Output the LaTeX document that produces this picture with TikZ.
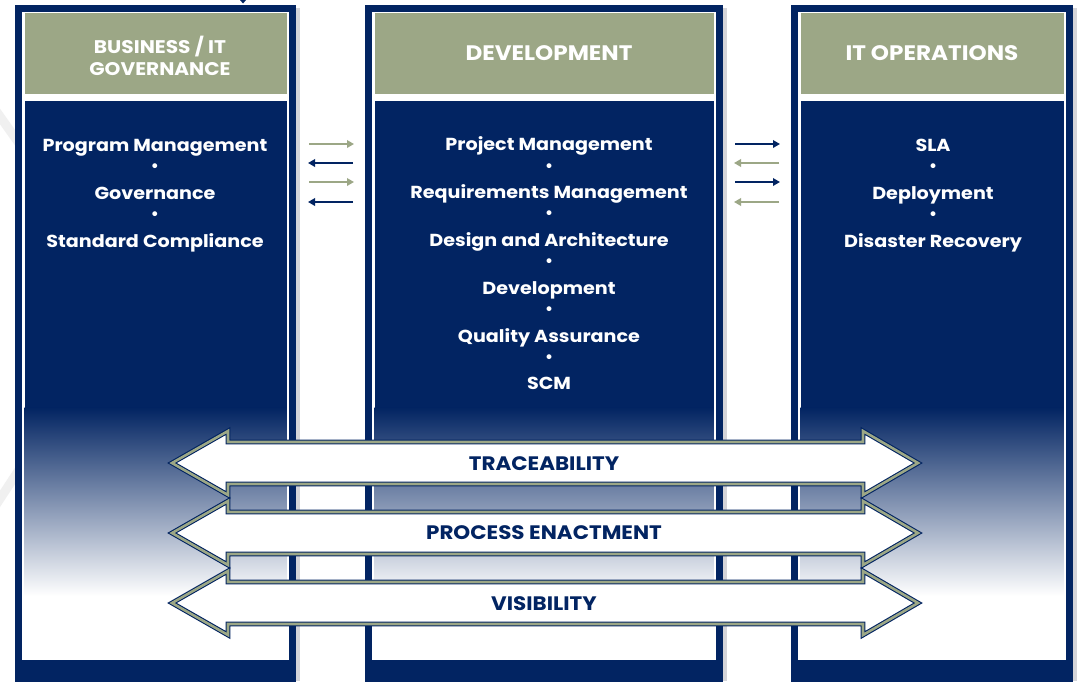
\documentclass[tikz,border=0pt]{standalone}
\usepackage{fontspec}
\setmainfont{Poppins}
\newfontfamily\wfont[FakeStretch=1.1]{Poppins}
\usetikzlibrary{arrows.meta}
\definecolor{navy}{HTML}{022462}
\definecolor{olive}{HTML}{9CA786}
\definecolor{shadowgray}{HTML}{D4D4D8}
\tikzset{
  frame/.style={fill=navy, draw=none},
  inner/.style={fill=white, draw=none},
  header/.style={fill=olive, draw=none},
  htext/.style={text=white, font=\wfont\fontsize{21}{22}\selectfont\bfseries, align=center, inner sep=0pt},
  hstext/.style={text=white, font=\wfont\fontsize{18.3}{22}\selectfont\bfseries, align=center, inner sep=0pt},
  btext/.style={text=white, font=\wfont\fontsize{17.4}{20}\selectfont\bfseries, inner sep=0pt, anchor=base},
  bullet/.style={text=white, font=\fontsize{16}{18}\selectfont\bfseries, inner sep=0pt},
  bigarrow/.style={fill=white, draw=navy, double=olive, double distance=2.6pt, line width=1.1pt, line join=miter},
  atext/.style={text=navy, font=\wfont\fontsize{19.5}{22}\selectfont\bfseries, inner sep=0pt},
  oarrow/.style={draw=olive, line width=2.2pt, -{Triangle[length=7pt,width=7.5pt]}},
  narrow/.style={draw=navy, line width=2.2pt, -{Triangle[length=7pt,width=7.5pt]}},
}
\newcommand{\mycolumn}[3]{% x1, x2, name
  \fill[shadowgray] (#2,8) rectangle (#2+3.5,681);
  \path[frame] (#1,5) rectangle (#2,690);
  \path[inner] (#1+7,11.5) rectangle (#2-7,660);
  \path[header] (#1+9.5,13) rectangle (#2-9.5,94);
  \fill[navy] (#1+9.5,101) rectangle (#2-9.5,408);
  \shade[top color=navy, bottom color=white] (#1+9.5,407.5) rectangle (#2-9.5,596);
}
\newcommand{\mybigarrow}[2]{% yc, name
  \path[bigarrow] (172,#1) -- (228,#1-32) -- (228,#1-21) -- (863,#1-21) -- (863,#1-32)
    -- (918,#1) -- (863,#1+32) -- (863,#1+21) -- (228,#1+21) -- (228,#1+32) -- cycle;
}
\begin{document}
\begin{tikzpicture}[x=1pt,y=-1pt]
\useasboundingbox (0,0) rectangle (1078,681);
\fill[white] (0,0) rectangle (1078,681);
% faint background chevron
\draw[gray!12, line width=9pt] (-40,60) -- (130,300) -- (-40,560);
% tiny mark at top
\fill[navy] (240,0) -- (246,0) -- (243,3.5) -- cycle;
% columns
\mycolumn{15}{296}{c1}
\mycolumn{365}{723}{c2}
\mycolumn{791}{1073}{c3}
% headers
\node[hstext] (h1) at (160,56) {BUSINESS / IT\\GOVERNANCE};
\node[htext] (h2) at (549,53) {DEVELOPMENT};
\node[htext] (h3) at (932,53) {IT OPERATIONS};
% column 1 body
\node[btext] (a1) at (155,151.5) {Program Management};
\node[bullet] (ab1) at (155,168) {•};
\node[btext] (a2) at (155,199.5) {Governance};
\node[bullet] (ab2) at (155,216) {•};
\node[btext] (a3) at (155,247.5) {Standard Compliance};
% column 2 body
\node[btext] (b1) at (549,150.5) {Project Management};
\node[bullet] (bb1) at (549,168) {•};
\node[btext] (b2) at (549,198.5) {Requirements Management};
\node[bullet] (bb2) at (549,215) {•};
\node[btext] (b3) at (549,246.5) {Design and Architecture};
\node[bullet] (bb3) at (549,263) {•};
\node[btext] (b4) at (549,294.5) {Development};
\node[bullet] (bb4) at (549,311) {•};
\node[btext] (b5) at (549,342.5) {Quality Assurance};
\node[bullet] (bb5) at (549,359) {•};
\node[btext] (b6) at (549,389.5) {SCM};
% column 3 body
\node[btext] (c1) at (933,151.5) {SLA};
\node[bullet] (cb1) at (933,168) {•};
\node[btext] (c2) at (933,199.5) {Deployment};
\node[bullet] (cb2) at (933,216) {•};
\node[btext] (c3) at (933,247.5) {Disaster Recovery};
% small arrows left gap
\coordinate (la1) at (309,144); \coordinate (lb1) at (354,144);
\coordinate (la2) at (353,163); \coordinate (lb2) at (308,163);
\coordinate (la3) at (309,182); \coordinate (lb3) at (354,182);
\coordinate (la4) at (353,202); \coordinate (lb4) at (308,202);
\draw[oarrow] (la1) -- (lb1);
\draw[narrow] (la2) -- (lb2);
\draw[oarrow] (la3) -- (lb3);
\draw[narrow] (la4) -- (lb4);
% small arrows right gap
\coordinate (ra1) at (735,144); \coordinate (rb1) at (780,144);
\coordinate (ra2) at (779,163); \coordinate (rb2) at (734,163);
\coordinate (ra3) at (735,182); \coordinate (rb3) at (780,182);
\coordinate (ra4) at (779,202); \coordinate (rb4) at (734,202);
\draw[narrow] (ra1) -- (rb1);
\draw[oarrow] (ra2) -- (rb2);
\draw[narrow] (ra3) -- (rb3);
\draw[oarrow] (ra4) -- (rb4);
% big arrows
\mybigarrow{463}{t}
\mybigarrow{533}{p}
\mybigarrow{603}{v}
\node[atext] (t) at (544,464) {TRACEABILITY};
\node[atext] (p) at (544,533) {PROCESS ENACTMENT};
\node[atext] (v) at (544,604) {VISIBILITY};
\end{tikzpicture}
\end{document}
